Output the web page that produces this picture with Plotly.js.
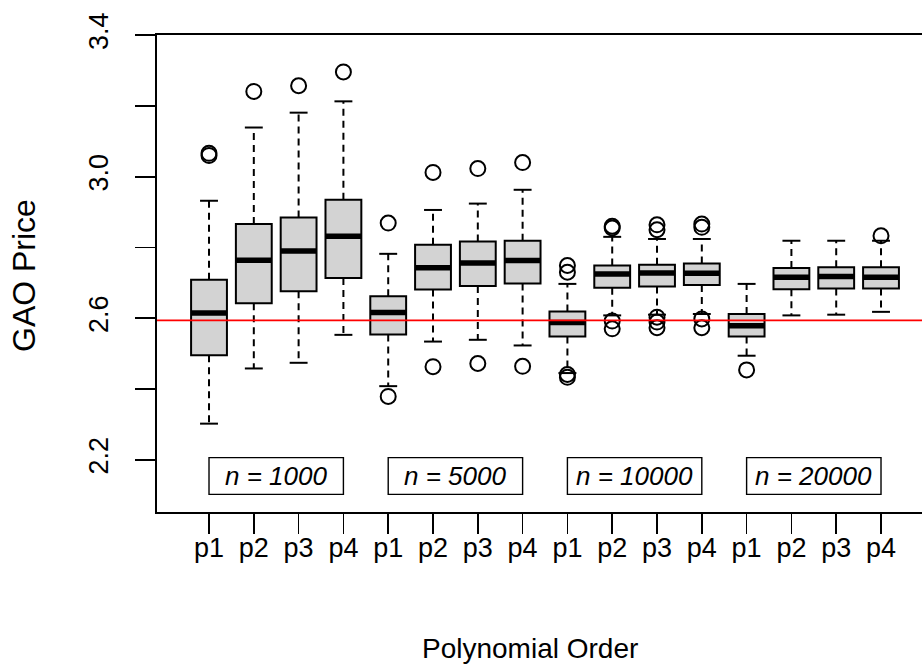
<!DOCTYPE html>
<html>
<head>
<meta charset="utf-8">
<script src="https://cdn.plot.ly/plotly-3.0.1.min.js"></script>
<style>
html,body{margin:0;padding:0;background:#fff;overflow:hidden;}
#chart{width:922px;height:664px;}
</style>
</head>
<body>
<div id="chart"></div>
<script>
// ---- data ----
const tickLabels = ['p1','p2','p3','p4','p1','p2','p3','p4','p1','p2','p3','p4','p1','p2','p3','p4'];
const groupLabels = ['n = 1000','n = 5000','n = 10000','n = 20000'];
const q1 = [2.495, 2.642, 2.676, 2.714, 2.554, 2.681, 2.691, 2.698, 2.548, 2.686, 2.690, 2.694, 2.548, 2.682, 2.684, 2.684];
const medians = [2.615, 2.764, 2.790, 2.832, 2.616, 2.743, 2.756, 2.763, 2.588, 2.725, 2.728, 2.727, 2.579, 2.716, 2.718, 2.716];
const q3 = [2.709, 2.866, 2.885, 2.935, 2.662, 2.808, 2.817, 2.819, 2.619, 2.749, 2.751, 2.755, 2.612, 2.742, 2.744, 2.744];
const lowerWhisker = [2.302, 2.458, 2.474, 2.553, 2.408, 2.534, 2.539, 2.523, 2.445, 2.608, 2.610, 2.612, 2.494, 2.608, 2.610, 2.618];
const upperWhisker = [2.932, 3.139, 3.181, 3.213, 2.782, 2.906, 2.924, 2.963, 2.697, 2.830, 2.824, 2.824, 2.697, 2.819, 2.819, 2.819];
const outlierBox = [1, 1, 2, 3, 4, 5, 5, 6, 6, 7, 7, 8, 8, 9, 9, 9, 9, 10, 10, 10, 10, 11, 11, 11, 11, 11, 12, 12, 12, 12, 13, 16];
const outlierVal = [3.060, 3.066, 3.241, 3.257, 3.296, 2.869, 2.379, 3.012, 2.463, 3.023, 2.472, 3.040, 2.464,
                    2.749, 2.730, 2.441, 2.433, 2.860, 2.855, 2.592, 2.570, 2.864, 2.850, 2.603, 2.589, 2.573,
                    2.866, 2.857, 2.598, 2.573, 2.454, 2.833];
const refPrice = 2.594;
const yTicks = [2.2, 2.4, 2.6, 2.8, 3.0, 3.2, 3.4];
const yTickText = ['2.2', '', '2.6', '', '3.0', '', '3.4'];

// ---- build traces ----
const pos = tickLabels.map((_, i) => i + 1);
const FONT = 'Liberation Sans, Arial, sans-serif';
const FS = 27;

const boxTrace = {
  type: 'box', x: pos, q1: q1, median: medians, q3: q3,
  lowerfence: q1, upperfence: q3, width: 0.8, whiskerwidth: 0,
  fillcolor: '#d3d3d3', line: {color: '#000', width: 2},
  boxpoints: false, hoverinfo: 'skip', showlegend: false
};

function segs(xa, xb, ya, yb) {
  const xs = [], ys = [];
  pos.forEach((p, i) => {
    xs.push(p + xa, p + xb, null);
    ys.push(ya[i], yb[i], null);
  });
  return {xs, ys};
}
const wU = segs(0, 0, q3, upperWhisker);
const wL = segs(0, 0, q1, lowerWhisker);
const whiskers = {
  type: 'scatter', mode: 'lines',
  x: wU.xs.concat(wL.xs), y: wU.ys.concat(wL.ys),
  line: {color: '#000', width: 2, dash: '7px,5px'},
  hoverinfo: 'skip', showlegend: false
};
const cU = segs(-0.2, 0.2, upperWhisker, upperWhisker);
const cL = segs(-0.2, 0.2, lowerWhisker, lowerWhisker);
const caps = {
  type: 'scatter', mode: 'lines',
  x: cU.xs.concat(cL.xs), y: cU.ys.concat(cL.ys),
  line: {color: '#000', width: 2},
  hoverinfo: 'skip', showlegend: false
};
const md = segs(-0.4, 0.4, medians, medians);
const medTrace = {
  type: 'scatter', mode: 'lines', x: md.xs, y: md.ys,
  line: {color: '#000', width: 5.5},
  hoverinfo: 'skip', showlegend: false
};
const outliers = {
  type: 'scatter', mode: 'markers', x: outlierBox, y: outlierVal,
  marker: {symbol: 'circle-open', size: 15, color: '#000', line: {width: 2, color: '#000'}},
  hoverinfo: 'skip', showlegend: false
};

const shapes = [{
  type: 'line', xref: 'paper', x0: 0, x1: 1, yref: 'y', y0: refPrice, y1: refPrice,
  line: {color: '#ff0000', width: 1.6}
}];
const annotations = [];
groupLabels.forEach((g, k) => {
  const a = pos[k * 4], b = pos[k * 4 + 3];
  shapes.push({type: 'rect', xref: 'x', yref: 'y', x0: a, x1: b, y0: 2.102, y1: 2.206,
    line: {color: '#000', width: 1.4}, fillcolor: 'rgba(0,0,0,0)'});
  annotations.push({xref: 'x', yref: 'y', x: (a + b) / 2, y: 2.154, text: '<i>' + g + '</i>',
    showarrow: false, font: {family: FONT, size: 26, color: '#000'}});
});
annotations.push({xref: 'paper', yref: 'paper', x: (530 - 157) / 765, y: (512 - 648) / 477,
  xanchor: 'center', yanchor: 'middle', text: 'Polynomial Order', showarrow: false,
  font: {family: FONT, size: 28, color: '#000'}});
annotations.push({xref: 'paper', yref: 'paper', x: (24 - 157) / 765, y: (512 - 276) / 477,
  xanchor: 'center', yanchor: 'middle', textangle: -90, text: 'GAO Price', showarrow: false,
  font: {family: FONT, size: 32, color: '#000'}});

const layout = {
  width: 922, height: 664,
  margin: {l: 157, r: 0, t: 35, b: 152},
  paper_bgcolor: '#fff', plot_bgcolor: '#fff',
  font: {family: FONT, size: FS, color: '#000'},
  showlegend: false,
  xaxis: {
    range: [-0.161, 16.915], tickvals: pos, ticktext: tickLabels,
    ticks: 'outside', ticklen: 20, tickwidth: 1.6, tickcolor: '#000',
    showline: true, linecolor: '#000', linewidth: 2, mirror: true,
    showgrid: false, zeroline: false, tickfont: {family: FONT, size: FS},
    ticklabelstandoff: -9
  },
  yaxis: {
    range: [2.0523, 3.4005], tickvals: yTicks, ticktext: yTickText, tickangle: -90,
    ticks: 'outside', ticklen: 20, tickwidth: 1.6, tickcolor: '#000',
    showline: true, linecolor: '#000', linewidth: 2,
    showgrid: false, zeroline: false, tickfont: {family: FONT, size: FS},
    ticklabelstandoff: 16
  },
  shapes: shapes,
  annotations: annotations
};

Plotly.newPlot('chart', [boxTrace, whiskers, caps, medTrace, outliers], layout, {staticPlot: true, displayModeBar: false});
</script>
</body>
</html>
